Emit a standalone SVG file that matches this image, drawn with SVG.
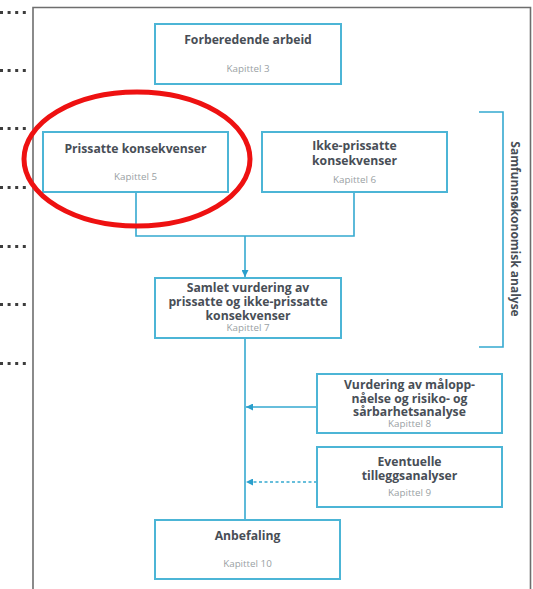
<svg xmlns="http://www.w3.org/2000/svg" width="533" height="589" viewBox="0 0 533 589">
<defs>
<style>
.box{fill:#fff;stroke:#4cb5d6;stroke-width:2}
.t{font-family:"Open Sans","Noto Sans",sans-serif;font-weight:bold;font-size:12.2px;fill:#484e56;text-anchor:middle}
.k{font-family:"Open Sans","Noto Sans",sans-serif;font-size:9.8px;fill:#9a9fa4;text-anchor:middle}
.c{fill:none;stroke:#35a9d0;stroke-width:1.6}
.dots{fill:none;stroke:#3c3c3c;stroke-width:3;stroke-dasharray:3,4.6}
</style>
<marker id="ah" viewBox="0 0 10 10" refX="10" refY="5" markerWidth="7" markerHeight="7" markerUnits="userSpaceOnUse" orient="auto">
<path d="M0,0 L10,5 L0,10 z" fill="#2a9fcc"/>
</marker>
</defs>
<rect width="533" height="589" fill="#fff"/>
<g id="margin-dots">
<path class="dots" d="M0,12.5 H26 M0,70.5 H26 M0,128.5 H26 M0,187.5 H26 M0,246.5 H26 M0,304.5 H26 M0,363.5 H26"/>
</g>
<g id="frame">
<path d="M33,589 V7.5 H530.5 V589" fill="none" stroke="#6e6e6e" stroke-width="1.6"/>
</g>
<g id="connectors">
<path class="c" d="M136,192 V236 H354 V192"/>
<path class="c" d="M245,236 V277" marker-end="url(#ah)"/>
<path class="c" d="M245,338 V520"/>
<path class="c" d="M317,407 H246" marker-end="url(#ah)"/>
<path class="c" d="M317,482 H246" stroke-dasharray="3,2.5" marker-end="url(#ah)"/>
</g>
<g id="forberedende">
<rect class="box" x="155" y="24" width="186" height="60"/>
<text class="t" x="248" y="43.5">Forberedende arbeid</text>
<text class="k" x="248" y="71.5">Kapittel 3</text>
</g>
<g id="prissatte">
<rect class="box" x="43" y="132" width="185" height="60"/>
<text class="t" x="135.5" y="152.5">Prissatte konsekvenser</text>
<text class="k" x="135.5" y="179.5">Kapittel 5</text>
</g>
<g id="ikke-prissatte">
<rect class="box" x="262" y="132" width="185" height="60"/>
<text class="t" x="354.5" y="149.5">Ikke-prissatte</text>
<text class="t" x="354.5" y="164.5">konsekvenser</text>
<text class="k" x="354.5" y="182.5">Kapittel 6</text>
</g>
<g id="samlet">
<rect class="box" x="155" y="278" width="186" height="60"/>
<text class="t" x="248" y="291.5">Samlet vurdering av</text>
<text class="t" x="248" y="305.5">prissatte og ikke-prissatte</text>
<text class="t" x="248" y="319.5">konsekvenser</text>
<text class="k" x="248" y="330.5">Kapittel 7</text>
</g>
<g id="vurdering">
<rect class="box" x="317" y="374" width="185" height="59"/>
<text class="t" x="409.5" y="389">Vurdering av målopp-</text>
<text class="t" x="409.5" y="402.5">nåelse og risiko- og</text>
<text class="t" x="409.5" y="416">sårbarhetsanalyse</text>
<text class="k" x="409.5" y="427">Kapittel 8</text>
</g>
<g id="eventuelle">
<rect class="box" x="317" y="447" width="185" height="60"/>
<text class="t" x="409.5" y="465.5">Eventuelle</text>
<text class="t" x="409.5" y="479.5">tilleggsanalyser</text>
<text class="k" x="409.5" y="495.5">Kapittel 9</text>
</g>
<g id="anbefaling">
<rect class="box" x="155" y="520" width="185" height="59"/>
<text class="t" x="247.5" y="539.5">Anbefaling</text>
<text class="k" x="247.5" y="566.5">Kapittel 10</text>
</g>
<g id="bracket">
<path d="M479,112 H503 V347 H479" fill="none" stroke="#35a9d0" stroke-width="1.6"/>
<text class="t" transform="translate(515,229) rotate(90)" x="0" y="4" style="font-size:12px">Samfunnsøkonomisk analyse</text>
</g>
<g id="highlight">
<ellipse cx="137" cy="159" rx="113" ry="67" fill="none" stroke="#ee1111" stroke-width="5"/>
</g>
</svg>
